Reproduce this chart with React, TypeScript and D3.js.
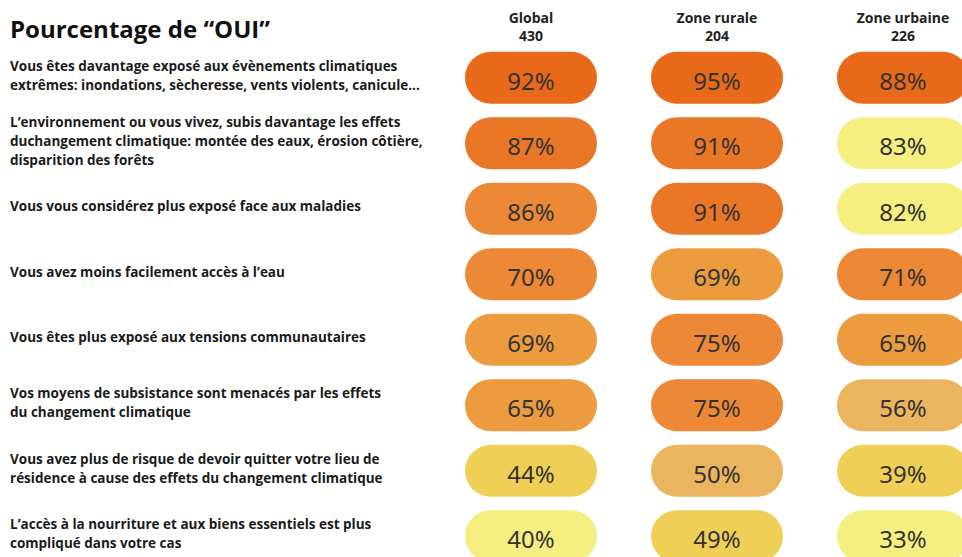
import React from 'react';
import { scaleBand } from 'd3';

const width = 962;
const height = 557;

const title = 'Pourcentage de \u201cOUI\u201d';

const groups = ['Global', 'Zone rurale', 'Zone urbaine'];
const groupCounts = ['430', '204', '226'];

const questions = [
  ['Vous êtes davantage exposé aux évènements climatiques', 'extrêmes: inondations, sècheresse, vents violents, canicule...'],
  ['L\u2019environnement ou vous vivez, subis davantage les effets', 'duchangement climatique: montée des eaux, érosion côtière,', 'disparition des forêts'],
  ['Vous vous considérez plus exposé face aux maladies'],
  ['Vous avez moins facilement accès à l\u2019eau'],
  ['Vous êtes plus exposé aux tensions communautaires'],
  ['Vos moyens de subsistance sont menacés par les effets', 'du changement climatique'],
  ['Vous avez plus de risque de devoir quitter votre lieu de', 'résidence à cause des effets du changement climatique'],
  ['L\u2019accès à la nourriture et aux biens essentiels est plus', 'compliqué dans votre cas'],
];

const globalValues = [92, 87, 86, 70, 69, 65, 44, 40];
const ruralValues = [95, 91, 91, 69, 75, 75, 50, 49];
const urbanValues = [88, 83, 82, 71, 65, 56, 39, 33];

// colour tone of each cell (index into palette)
const globalTones = [0, 1, 2, 2, 3, 3, 5, 6];
const ruralTones = [0, 1, 1, 3, 2, 2, 4, 5];
const urbanTones = [0, 6, 6, 2, 3, 4, 5, 6];

const palette = ['#e8691a', '#ea7726', '#ec8836', '#ec9b3f', '#ebb45f', '#f0cf56', '#f4ef80'];

const series = [globalValues, ruralValues, urbanValues];
const tones = [globalTones, ruralTones, urbanTones];

const App = () => {
  const x = scaleBand<string>().domain(groups).range([438, 996]);
  const y = scaleBand<number>()
    .domain(questions.map((_, i) => i))
    .range([45, 45 + questions.length * 65.5]);

  const pillW = 132;
  const pillH = 52;
  const lineH = 19;
  const textFont = '"Open Sans", sans-serif';

  return (
    <svg
      width={width}
      height={height}
      style={{ position: 'absolute', left: 0, top: 0, background: '#fff' }}
    >
      <text x={10} y={38} fontFamily={textFont} fontWeight={700} fontSize={24} fill="#111">
        {title}
      </text>

      {groups.map((g, j) => (
        <text
          key={g}
          textAnchor="middle"
          fontFamily={textFont}
          fontWeight={700}
          fontSize={14}
          fill="#222"
        >
          <tspan x={x(g)! + x.bandwidth() / 2} y={23}>{g}</tspan>
          <tspan x={x(g)! + x.bandwidth() / 2} y={40.5}>{groupCounts[j]}</tspan>
        </text>
      ))}

      {questions.map((lines, i) => {
        const cy = y(i)! + y.bandwidth() / 2;
        const first = cy - 2 - ((lines.length - 1) * lineH) / 2 + 4.5;
        return (
          <text key={i} fontFamily={textFont} fontWeight={700} fontSize={13.5} fill="#1a1a1a">
            {lines.map((l, k) => (
              <tspan key={k} x={10} y={first + k * lineH}>{l}</tspan>
            ))}
          </text>
        );
      })}

      {groups.map((g, j) => (
        <g key={g}>
          {series[j].map((v, i) => {
            const cx = x(g)! + x.bandwidth() / 2;
            const cy = y(i)! + y.bandwidth() / 2;
            return (
              <g key={i}>
                <rect
                  x={cx - pillW / 2}
                  y={cy - pillH / 2}
                  width={pillW}
                  height={pillH}
                  rx={pillH / 2}
                  fill={palette[tones[j][i]]}
                />
                <text
                  x={cx}
                  y={cy + 12}
                  textAnchor="middle"
                  fontFamily='"Noto Sans", sans-serif'
                  fontSize={24}
                  fill="#333"
                >
                  {v}%
                </text>
              </g>
            );
          })}
        </g>
      ))}
    </svg>
  );
};

export default App;
